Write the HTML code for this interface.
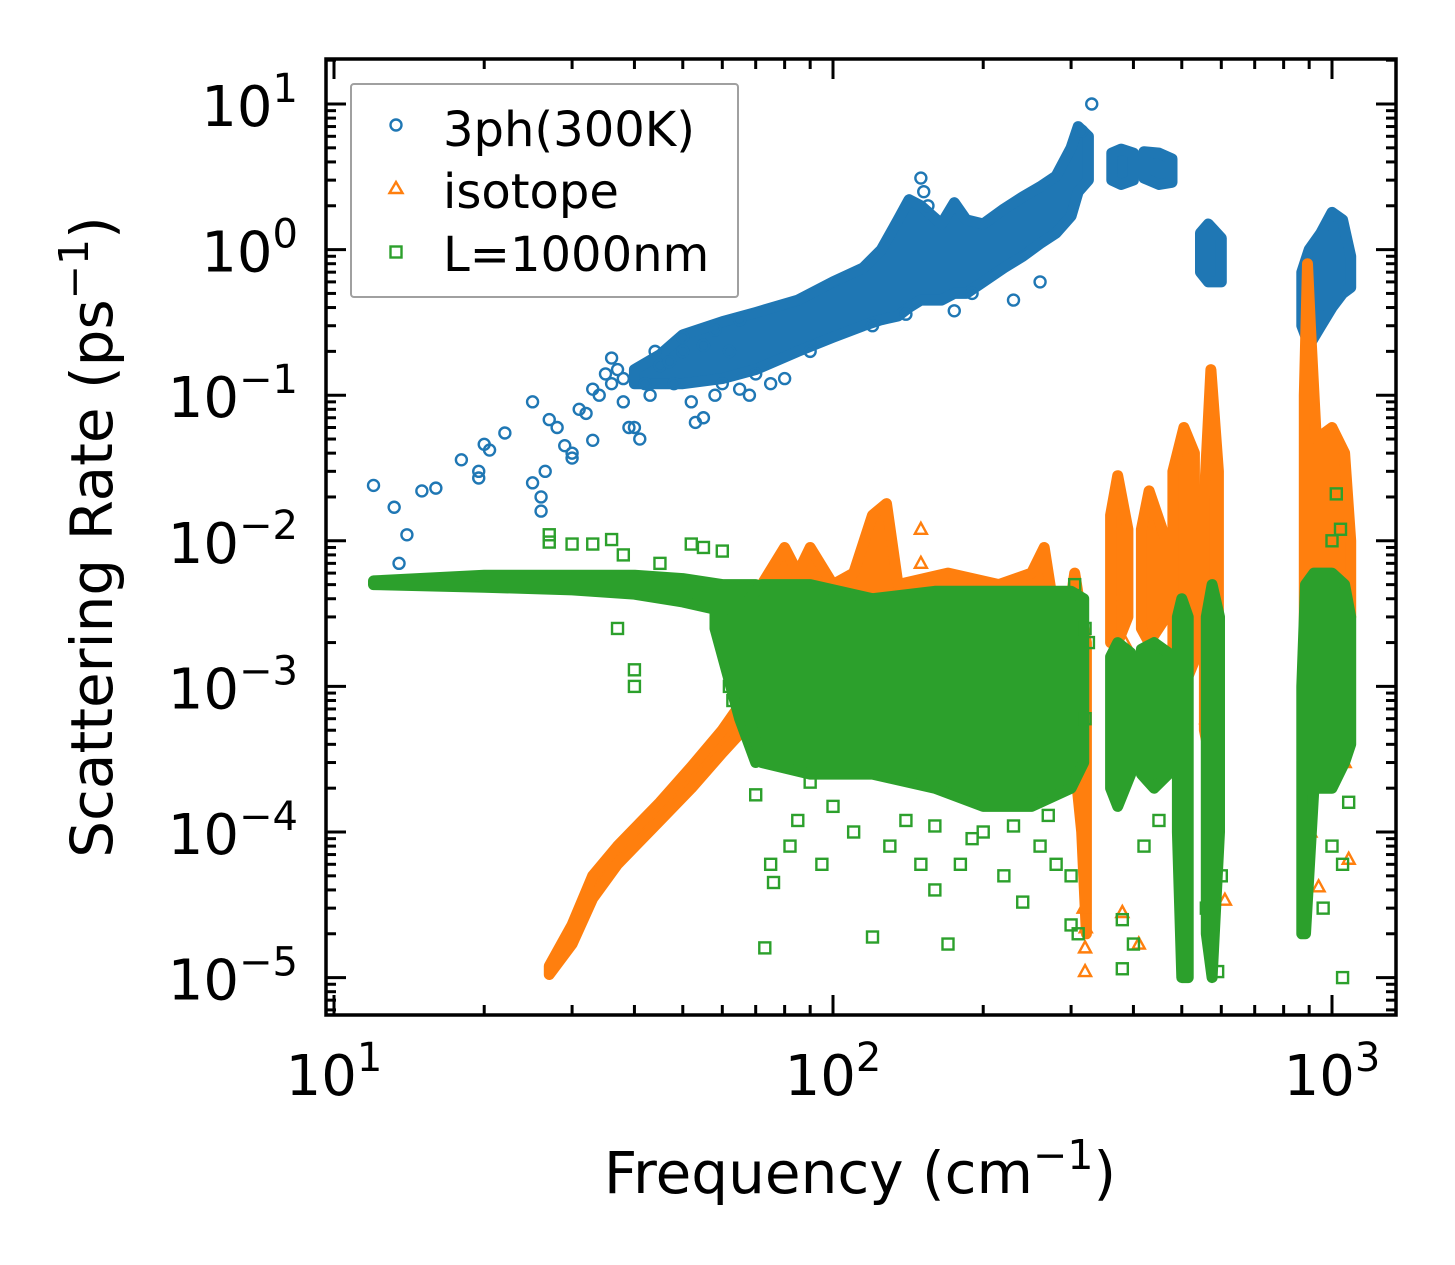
<!DOCTYPE html>
<html><head><meta charset="utf-8"><style>
html,body{margin:0;padding:0;background:#fff;}
svg{display:block;font-family:"DejaVu Sans","Liberation Sans",sans-serif;}
</style></head><body>
<svg id="chart" width="1455" height="1265" viewBox="0 0 1455 1265" xmlns="http://www.w3.org/2000/svg">
<rect x="0" y="0" width="1455" height="1265" fill="#fff"/>
<g id="marks"></g>
<g id="axes"></g>
<g id="legend">
<rect x="351" y="84" width="387" height="213" rx="3" fill="#fff" fill-opacity="0.85" stroke="#a0a0a0" stroke-width="2"/>
<circle cx="396" cy="125" r="5.5" fill="none" stroke="#1f77b4" stroke-width="2.4"/>
<path d="M396,182 L402.5,193 L389.5,193 Z" fill="none" stroke="#ff7f0e" stroke-width="2.4"/>
<rect x="390.5" y="246.5" width="11" height="11" fill="none" stroke="#2ca02c" stroke-width="2.4"/>
<text x="443" y="146" font-size="48">3ph(300K)</text>
<text x="443" y="208" font-size="48">isotope</text>
<text x="443" y="271" font-size="48">L=1000nm</text>
</g>
<text x="860" y="1193" font-size="58" text-anchor="middle">Frequency (cm<tspan dy="-24" font-size="41">−1</tspan><tspan dy="24">)</tspan></text>
<text transform="translate(112,537) rotate(-90)" font-size="58" text-anchor="middle">Scattering Rate (ps<tspan dy="-24" font-size="41">−1</tspan><tspan dy="24">)</tspan></text>
</svg>
<script>
// ---- data (frequency cm^-1, rate ps^-1) ----
const xTickExps = [1, 2, 3];
const yTickExps = [1, 0, -1, -2, -3, -4, -5];
// dense clouds: each band is a list of [freq, low, high]
const blueBands = [
 [[40,0.12,0.15],[45,0.12,0.19],[50,0.12,0.26],[60,0.13,0.32],[70,0.15,0.37],[85,0.2,0.45],[100,0.25,0.6],[115,0.3,0.75],[125,0.33,1.0],[135,0.35,1.6],[142,0.4,2.2],[150,0.45,2.0],[165,0.45,1.5],[175,0.5,2.1],[185,0.5,1.6],[200,0.6,1.5],[220,0.75,1.9],[240,0.9,2.3],[260,1.1,2.7],[280,1.3,3.2],[300,1.7,5],[310,2.5,7],[325,3,6]],
 [[362,3.0,4.6],[378,2.8,4.9],[400,3.0,4.6]],
 [[420,3.1,4.7],[450,2.8,4.6],[478,2.9,4.2]],
 [[545,0.7,1.3],[565,0.6,1.5],[600,0.6,1.2]],
 [[870,0.3,0.7],[900,0.22,1.0],[950,0.3,1.3],[1000,0.4,1.8],[1050,0.5,1.6],[1090,0.55,0.9]]
];
const orangeBands = [
 [[27,1.05e-5,1.2e-5],[30,1.7e-5,2.3e-5],[33,3.5e-5,5e-5],[37,6e-5,8e-5],[45,1.2e-4,1.6e-4],[52,2e-4,2.8e-4],[60,3.5e-4,5e-4],[66,5e-4,8e-4],[72,7e-4,2e-3]],
 [[72,5e-4,5e-3],[80,5e-4,9e-3],[85,5e-4,6e-3],[90,5e-4,9e-3],[100,4e-4,5e-3],[110,4e-4,6e-3],[120,4e-4,1.5e-2],[128,4e-4,1.8e-2],[135,4e-4,5e-3],[170,4e-4,6e-3],[215,4e-4,5e-3],[250,4e-4,6e-3],[265,4e-4,9e-3],[275,4e-4,4e-3],[300,4e-4,4e-3],[305,3e-4,6e-3],[315,1e-4,3e-3],[322,2e-5,2e-3]],
 [[360,2e-3,1.5e-2],[372,2e-3,2.8e-2],[390,3e-3,1.2e-2]],
 [[415,2.5e-3,1.2e-2],[430,2e-3,2.2e-2],[465,3e-3,1e-2]],
 [[480,1.5e-3,3e-2],[505,1e-3,6e-2],[530,1.5e-3,4e-2]],
 [[555,5e-4,2e-2],[572,3e-4,0.15],[592,5e-4,0.03]],
 [[880,2e-4,0.1],[893,1e-4,0.8],[905,5e-4,0.3],[930,2e-3,0.05],[1000,2e-3,0.06],[1060,2e-3,0.04],[1090,3e-3,0.01]]
];
const greenBands = [
 [[12,5e-3,5.3e-3],[20,4.8e-3,5.8e-3],[30,4.6e-3,5.8e-3],[40,4.3e-3,5.8e-3],[50,3.8e-3,5.5e-3],[60,3.3e-3,5e-3],[70,2.5e-3,5e-3]],
 [[58,2.5e-3,4e-3],[65,6e-4,3e-3],[70,3e-4,3e-3]],
 [[68,6e-4,4e-3],[72,3e-4,5e-3],[90,2.5e-4,5e-3],[120,2.5e-4,4e-3],[160,2e-4,4.5e-3],[200,1.5e-4,4.5e-3],[250,1.5e-4,4.5e-3],[300,2e-4,4.5e-3],[318,3e-4,4e-3]],
 [[360,2e-4,1.6e-3],[372,1.5e-4,2e-3],[395,2.5e-4,1.7e-3]],
 [[415,2.5e-4,1.8e-3],[440,2e-4,2e-3],[470,2.5e-4,1.7e-3]],
 [[490,1e-4,3e-3],[500,1e-5,4e-3],[515,1e-5,3e-3]],
 [[560,2e-5,3e-3],[575,1e-5,5e-3],[595,1e-4,3e-3]],
 [[870,2e-5,1e-3],[885,2e-5,5e-3],[920,2e-4,6e-3],[1000,2e-4,6e-3],[1060,3e-4,5e-3],[1090,4e-4,3e-3]]
];
// scattered individual points [freq, rate]
const bluePoints = [[12,0.024],[13.2,0.017],[13.5,0.007],[14,0.011],[15,0.022],[16,0.023],[18,0.036],[19.5,0.03],[19.5,0.027],[20,0.046],[20.5,0.042],[22,0.055],[25,0.09],[25,0.025],[26,0.02],[26.5,0.03],[27,0.068],[26,0.016],[28,0.06],[29,0.045],[30,0.04],[30,0.037],[31,0.08],[32,0.075],[33,0.11],[34,0.1],[33,0.049],[35,0.14],[36,0.12],[36,0.18],[37,0.15],[38,0.09],[38,0.13],[39,0.06],[40,0.06],[41,0.05],[42,0.12],[43,0.1],[44,0.2],[45,0.16],[47,0.17],[48,0.12],[50,0.2],[50,0.25],[52,0.09],[53,0.065],[55,0.07],[55,0.22],[58,0.1],[58,0.28],[60,0.12],[62,0.2],[65,0.11],[65,0.33],[68,0.1],[70,0.14],[75,0.12],[80,0.13],[90,0.2],[150,3.1],[152,2.5],[155,2.0],[175,0.38],[190,0.5],[230,0.45],[260,0.6],[330,10],[315,6.5],[120,0.3],[140,0.36]];
const orangePoints = [[150,0.012],[150,0.007],[150,0.0045],[320,1.1e-5],[320,1.6e-5],[321,2.2e-5],[318,3e-5],[365,2.2e-3],[375,4e-3],[385,2e-3],[380,2.8e-5],[410,1.7e-5],[560,6e-4],[610,3.4e-5],[940,4.2e-5],[1080,6.5e-5],[1060,3e-4],[905,1e-4]];
const greenPoints = [[27,0.011],[27,0.0098],[30,0.0095],[33,0.0095],[36,0.0102],[38,0.008],[45,0.007],[52,0.0095],[55,0.009],[60,0.0085],[40,0.0013],[40,0.001],[37,0.0025],[62,0.001],[63,0.0008],[70,0.00018],[75,6e-5],[76,4.5e-5],[73,1.6e-5],[95,6e-5],[82,8e-5],[120,1.9e-5],[170,1.7e-5],[240,3.3e-5],[310,2e-5],[300,2.3e-5],[1050,1e-5],[590,1.1e-5],[380,1.15e-5],[380,2.5e-5],[400,1.7e-5],[420,8e-5],[450,1.2e-4],[560,3e-5],[600,5e-5],[960,3e-5],[1000,8e-5],[1050,6e-5],[1080,1.6e-4],[110,1e-4],[130,8e-5],[150,6e-5],[160,4e-5],[180,6e-5],[200,1e-4],[220,5e-5],[260,8e-5],[280,6e-5],[300,5e-5],[100,1.5e-4],[90,2.2e-4],[85,1.2e-4],[1020,0.021],[1040,0.012],[1000,0.01],[305,0.005],[320,0.0025],[325,0.002],[320,0.0006],[140,1.2e-4],[190,9e-5],[230,1.1e-4],[270,1.3e-4],[160,1.1e-4]];

// ---- scales ----
const X0 = 334, XD = 499, Y0 = 104, YD = 145.6;
const L = 326, R = 1396, T = 59, B = 1015;
function xs(f){ return X0 + XD*(Math.log10(f) - 1); }
function ys(v){ return Y0 - YD*(Math.log10(v) - 1); }

const NS = 'http://www.w3.org/2000/svg';
const marks = document.getElementById('marks');
const axes = document.getElementById('axes');
function mk(tag, attrs, parent){ const e = document.createElementNS(NS, tag); for (const k in attrs) e.setAttribute(k, attrs[k]); parent.appendChild(e); return e; }

const clip = mk('clipPath', {id:'plotclip'}, marks);
mk('rect', {x:L, y:T, width:R-L, height:B-T}, clip);
marks.setAttribute('clip-path', 'url(#plotclip)');

function drawBands(bands, color, name){
  bands.forEach(function(b, i){
    let top = b.map(p => xs(p[0]).toFixed(1)+','+ys(p[2]).toFixed(1));
    let bot = b.slice().reverse().map(p => xs(p[0]).toFixed(1)+','+ys(p[1]).toFixed(1));
    const poly = mk('polygon', {points: top.concat(bot).join(' '), fill: color, stroke: color, 'stroke-width': 11, 'stroke-linejoin':'round'}, marks);
    
    
  });
}
function drawPoints(pts, color, shape, name){
  pts.forEach(function(p){
    const x = xs(p[0]), y = ys(p[1]);
    let e;
    if (shape === 'circle') e = mk('circle', {cx:x, cy:y, r:5.5, fill:'none', stroke:color, 'stroke-width':2.4}, marks);
    else if (shape === 'tri') e = mk('path', {d:'M'+x+','+(y-6.5)+' L'+(x+6)+','+(y+4.5)+' L'+(x-6)+','+(y+4.5)+' Z', fill:'none', stroke:color, 'stroke-width':2.4}, marks);
    else e = mk('rect', {x:x-5.5, y:y-5.5, width:11, height:11, fill:'none', stroke:color, 'stroke-width':2.4}, marks);
    
    
  });
}
drawBands(blueBands, '#1f77b4', '3ph');
drawPoints(bluePoints, '#1f77b4', 'circle', '3ph');
drawBands(orangeBands, '#ff7f0e', 'isotope');
drawPoints(orangePoints, '#ff7f0e', 'tri', 'isotope');
drawBands(greenBands, '#2ca02c', 'boundary');
drawPoints(greenPoints, '#2ca02c', 'square', 'boundary');

// ---- axes frame ----
const frame = mk('rect', {x:L, y:T, width:R-L, height:B-T, fill:'none', stroke:'#000', 'stroke-width':3.5}, axes);



for (let e = 0; e <= 3; e++){
  for (let m = 1; m <= 9; m++){
    const f = m*Math.pow(10, e);
    const x = xs(f);
    if (x < L || x > R) continue;
    const len = m === 1 ? 20 : 10;
    const t1 = mk('line', {x1:x, x2:x, y1:B, y2:B-len, stroke:'#000', 'stroke-width':3}, axes);
    
    
    const t2 = mk('line', {x1:x, x2:x, y1:T, y2:T+len, stroke:'#000', 'stroke-width':3}, axes);
    
    
  }
}
xTickExps.forEach(function(e){
  const x = xs(Math.pow(10, e));
  const t = mk('text', {x:x, y:1095, 'font-size':56, 'text-anchor':'middle'}, axes);
  
  
  t.textContent = '10';
  const s = mk('tspan', {dy:-24, 'font-size':40}, t);
  s.textContent = String(e);
});
for (let e = -6; e <= 1; e++){
  for (let m = 1; m <= 9; m++){
    const v = m*Math.pow(10, e);
    const y = ys(v);
    if (y < T || y > B) continue;
    const len = m === 1 ? 20 : 10;
    const t1 = mk('line', {x1:L, x2:L+len, y1:y, y2:y, stroke:'#000', 'stroke-width':3}, axes);
    
    
    const t2 = mk('line', {x1:R, x2:R-len, y1:y, y2:y, stroke:'#000', 'stroke-width':3}, axes);
    
    
  }
}
yTickExps.forEach(function(e){
  const y = ys(Math.pow(10, e));
  const t = mk('text', {x:298, y:y+22, 'font-size':56, 'text-anchor':'end'}, axes);
  
  
  t.textContent = '10';
  const s = mk('tspan', {dy:-24, 'font-size':40}, t);
  s.textContent = e < 0 ? '−' + (-e) : String(e);
});
</script>
</body></html>
